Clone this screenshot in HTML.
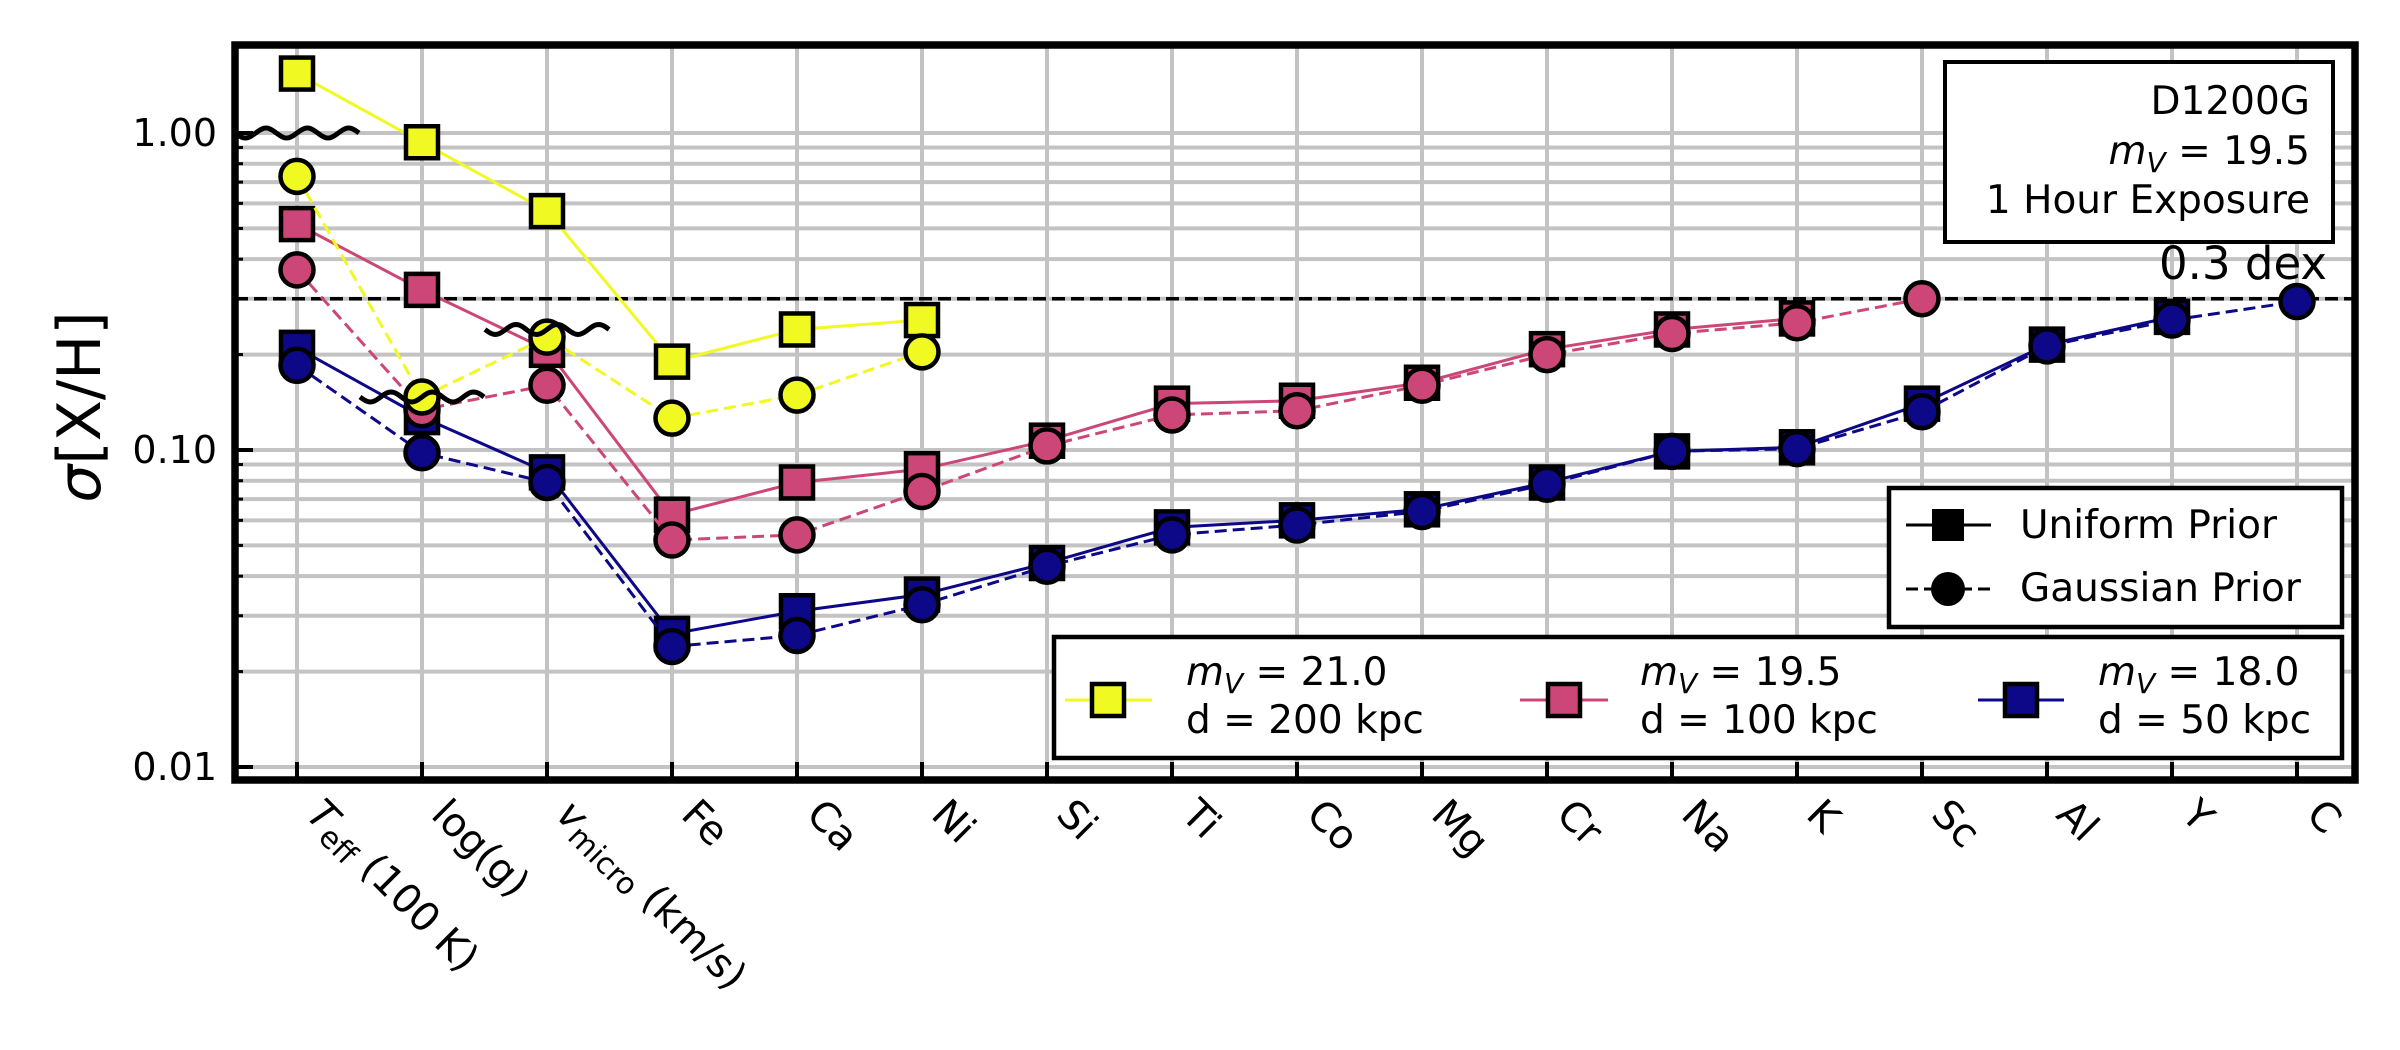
<!DOCTYPE html>
<html><head><meta charset="utf-8"><style>
html,body{margin:0;padding:0;background:#fff;}
svg{display:block;font-family:"DejaVu Sans","Liberation Sans",sans-serif;}
</style></head><body>
<svg id="chart" xmlns="http://www.w3.org/2000/svg" width="2400" height="1050" viewBox="0 0 2400 1050">
<rect x="0" y="0" width="2400" height="1050" fill="#fff"/>
<g id="grid"></g>
<g id="series"></g>
<g id="axes"></g>
<g id="overlay"></g>
</svg>
<script>
const categories = ["Teff","logg","vmicro","Fe","Ca","Ni","Si","Ti","Co","Mg","Cr","Na","K","Sc","Al","Y","C"];
const yTickValues = [0.01, 0.1, 1.0];
const yTickLabels = ["0.01","0.10","1.00"];
const yellowUniform = [1.54,0.935,0.567,0.19,0.24,0.257,null,null,null,null,null,null,null,null,null,null,null];
const yellowGauss = [0.73,0.147,0.227,0.126,0.149,0.204,null,null,null,null,null,null,null,null,null,null,null];
const pinkUniform = [0.516,0.32,0.207,0.0625,0.079,0.087,0.107,0.14,0.143,0.163,0.208,0.24,0.26,null,null,null,null];
const pinkGauss = [0.37,0.134,0.16,0.052,0.054,0.074,0.103,0.129,0.133,0.16,0.2,0.233,0.252,0.30,null,null,null];
const blueUniform = [0.21,0.127,0.085,0.0263,0.031,0.035,0.044,0.057,0.06,0.065,0.079,0.099,0.102,0.14,0.215,0.263,null];
const blueGauss = [0.185,0.098,0.079,0.024,0.026,0.0325,0.043,0.054,0.058,0.064,0.078,0.099,0.101,0.132,0.213,0.257,0.294];
const thresholdValue = 0.3;
const breakMarks = [[0,1.0],[1,0.147],[2,0.24]];

const NS="http://www.w3.org/2000/svg";
const L=235,R=2355,T=45,B=780;
const x0=297,dx=125;
function xs(i){return x0+i*dx;}
function ys(v){return 133-317*Math.log10(v);}
function mk(tag,attrs,parent){const e=document.createElementNS(NS,tag);for(const k in attrs)e.setAttribute(k,attrs[k]);parent.appendChild(e);return e;}
const grid=document.getElementById('grid'),series=document.getElementById('series'),axes=document.getElementById('axes'),ov=document.getElementById('overlay');

for(let d=-3;d<=0;d++){for(let m=1;m<=9;m++){const v=m*Math.pow(10,d);const y=ys(v);if(y<T||y>B)continue;
 const g=mk('line',{x1:L,x2:R,y1:y,y2:y,stroke:'#c3c3c3','stroke-width':4},grid);
 
 }}
categories.forEach((c,i)=>{const g=mk('line',{x1:xs(i),x2:xs(i),y1:T,y2:B,stroke:'#c3c3c3','stroke-width':4},grid);
 
 });

const th=mk('line',{x1:L,x2:R,y1:ys(thresholdValue),y2:ys(thresholdValue),stroke:'#000','stroke-width':3.5,'stroke-dasharray':'13 6'},grid);



const colors={yellow:'#f0f921',pink:'#cc4778',blue:'#0d0887'};
function drawLine(arr,color,dashed,name){let pts=[];arr.forEach((v,i)=>{if(v!=null)pts.push(xs(i)+','+ys(v));});
 const p=mk('polyline',{points:pts.join(' '),fill:'none',stroke:color,'stroke-width':3,'stroke-dasharray':dashed?'12 6':'none'},series);
 
 }
function drawMarks(arr,color,shape,name){arr.forEach((v,i)=>{if(v==null)return;let e;
 if(shape==='sq'){e=mk('rect',{x:xs(i)-16,y:ys(v)-16,width:32,height:32,fill:color,stroke:'#000','stroke-width':4.5},series);}
 else{e=mk('circle',{cx:xs(i),cy:ys(v),r:16.5,fill:color,stroke:'#000','stroke-width':4.5},series);}
 
 });}
drawLine(yellowUniform,colors.yellow,false,'yellow-uniform');drawMarks(yellowUniform,colors.yellow,'sq','yellow-uniform');
drawLine(pinkUniform,colors.pink,false,'pink-uniform');drawMarks(pinkUniform,colors.pink,'sq','pink-uniform');
drawLine(blueUniform,colors.blue,false,'blue-uniform');drawMarks(blueUniform,colors.blue,'sq','blue-uniform');
drawLine(blueGauss,colors.blue,true,'blue-gaussian');drawMarks(blueGauss,colors.blue,'ci','blue-gaussian');
drawLine(pinkGauss,colors.pink,true,'pink-gaussian');drawMarks(pinkGauss,colors.pink,'ci','pink-gaussian');
drawLine(yellowGauss,colors.yellow,true,'yellow-gaussian');drawMarks(yellowGauss,colors.yellow,'ci','yellow-gaussian');

breakMarks.forEach(b=>{const cx=xs(b[0]),cy=ys(b[1]);let d='';for(let k=0;k<=60;k++){const t=k/60;const x=cx-62+124*t;const y=cy+5*Math.sin(t*Math.PI*6);d+=(k?'L':'M')+x.toFixed(1)+','+y.toFixed(1);}
 const p=mk('path',{d:d,fill:'none',stroke:'#000','stroke-width':5},ov);
 
 });

const sp=mk('rect',{x:L,y:T,width:R-L,height:B-T,fill:'none',stroke:'#000','stroke-width':7.5},axes);


for(let d=-3;d<=0;d++){for(let m=1;m<=9;m++){const v=m*Math.pow(10,d);const y=ys(v);if(y<T||y>B)continue;
 const t=mk('line',{x1:L,x2:L+(m===1?18:8),y1:y,y2:y,stroke:'#000','stroke-width':m===1?4:3},axes);
 
 }}
yTickValues.forEach((v,i)=>{const t=mk('text',{x:217,y:ys(v)+13,'text-anchor':'end','font-size':38},axes);t.textContent=yTickLabels[i];
 
 });
categories.forEach((c,i)=>{const t=mk('line',{x1:xs(i),x2:xs(i),y1:B,y2:B-18,stroke:'#000','stroke-width':4},axes);
 
 
 const ax=xs(i)+28,ay=796;
 const tx=mk('text',{x:ax,y:ay,'font-size':40,'dominant-baseline':'hanging',transform:`rotate(45 ${ax} ${ay})`},axes);
 
 
 if(c==='Teff'){tx.innerHTML='<tspan font-style="italic">T</tspan><tspan font-size="30" dy="14">eff</tspan><tspan dy="-14"> (100 K)</tspan>';}
 else if(c==='logg'){tx.textContent='log(g)';}
 else if(c==='vmicro'){tx.innerHTML='<tspan font-style="italic">v</tspan><tspan font-size="30" dy="14">micro</tspan><tspan dy="-14"> (km/s)</tspan>';}
 else tx.textContent=c;});
</script>
<script>
(function(){
const svg=document.getElementById('chart');const NS="http://www.w3.org/2000/svg";
const g=document.createElementNS(NS,'g');svg.appendChild(g);


g.innerHTML=`
<text x="0" y="0" font-size="60" text-anchor="middle" transform="translate(100 407) rotate(-90)"><tspan font-style="italic">σ</tspan>[X/H]</text>
<g>
<rect x="1945" y="62" width="388" height="180" fill="#fff" stroke="#000" stroke-width="4"/>
<text x="2310" y="114" font-size="39" text-anchor="end">D1200G</text>
<text x="2310" y="164" font-size="39" text-anchor="end"><tspan font-style="italic">m</tspan><tspan font-style="italic" font-size="28" dy="8">V</tspan><tspan dy="-8"> = 19.5</tspan></text>
<text x="2310" y="213" font-size="39" text-anchor="end">1 Hour Exposure</text>
</g>
<text x="2327" y="279" font-size="45" text-anchor="end">0.3 dex</text>
<g>
<rect x="1889" y="488" width="453" height="139" fill="#fff" stroke="#000" stroke-width="4.5"/>
<line x1="1906" x2="1991" y1="525" y2="525" stroke="#000" stroke-width="3"/>
<rect x="1932" y="509" width="32" height="32" fill="#000"/>
<text x="2020" y="538" font-size="39">Uniform Prior</text>
<line x1="1906" x2="1991" y1="589" y2="589" stroke="#000" stroke-width="3" stroke-dasharray="12 6"/>
<circle cx="1948" cy="589" r="17" fill="#000"/>
<text x="2020" y="601" font-size="39">Gaussian Prior</text>
</g>
<g>
<rect x="1054" y="637" width="1288" height="121" fill="#fff" stroke="#000" stroke-width="4.5"/>
<line x1="1065" x2="1152" y1="700" y2="700" stroke="#f0f921" stroke-width="3"/>
<rect x="1092" y="684" width="32" height="32" fill="#f0f921" stroke="#000" stroke-width="4.5"/>
<text x="1186" y="685" font-size="39"><tspan font-style="italic">m</tspan><tspan font-style="italic" font-size="28" dy="8">V</tspan><tspan dy="-8"> =  21.0</tspan></text>
<text x="1186" y="733" font-size="39">d = 200 kpc</text>
<line x1="1520" x2="1608" y1="700" y2="700" stroke="#cc4778" stroke-width="3"/>
<rect x="1548" y="684" width="32" height="32" fill="#cc4778" stroke="#000" stroke-width="4.5"/>
<text x="1640" y="685" font-size="39"><tspan font-style="italic">m</tspan><tspan font-style="italic" font-size="28" dy="8">V</tspan><tspan dy="-8"> =  19.5</tspan></text>
<text x="1640" y="733" font-size="39">d = 100 kpc</text>
<line x1="1978" x2="2064" y1="700" y2="700" stroke="#0d0887" stroke-width="3"/>
<rect x="2005" y="684" width="32" height="32" fill="#0d0887" stroke="#000" stroke-width="4.5"/>
<text x="2098" y="685" font-size="39"><tspan font-style="italic">m</tspan><tspan font-style="italic" font-size="28" dy="8">V</tspan><tspan dy="-8"> =  18.0</tspan></text>
<text x="2098" y="733" font-size="39">d = 50 kpc</text>
</g>`;
})();
</script>
</body></html>
